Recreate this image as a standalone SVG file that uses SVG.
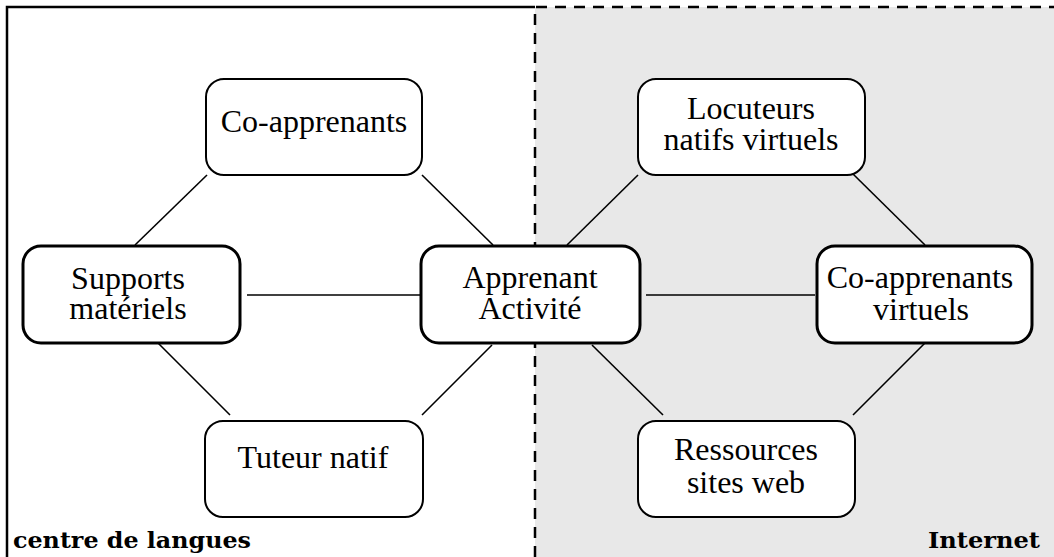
<svg xmlns="http://www.w3.org/2000/svg" width="1054" height="557" viewBox="0 0 1054 557">
  <style>
    .box { fill: #ffffff; stroke: #000000; stroke-width: 2; }
    .thick { stroke-width: 3; }
    .lbl { font-family: "Liberation Serif", "Times New Roman", serif; font-size: 32px; fill: #000000; text-anchor: middle; }
    .zone { font-family: "DejaVu Serif", "Liberation Serif", serif; font-weight: bold; font-size: 22px; fill: #000000; }
    .conn { stroke: #000000; stroke-width: 1.6; fill: none; }
  </style>
  <rect x="0" y="0" width="1054" height="557" fill="#ffffff"/>
  <g id="zones">
    <rect x="535" y="7" width="519" height="550" fill="#e8e8e8"/>
    <path d="M7,557 V7 H535" fill="none" stroke="#000000" stroke-width="2.5"/>
    <path d="M535,557 V7 H1054" fill="none" stroke="#000000" stroke-width="2.5" stroke-dasharray="11 8"/>
    <text class="zone" x="13" y="548" textLength="238" lengthAdjust="spacingAndGlyphs">centre de langues</text>
    <text class="zone" x="928" y="548" textLength="112" lengthAdjust="spacingAndGlyphs">Internet</text>
  </g>
  <g id="connectors">
    <line class="conn" x1="207" y1="175" x2="135" y2="245"/>
    <line class="conn" x1="422" y1="175" x2="493" y2="245"/>
    <line class="conn" x1="247" y1="295" x2="420" y2="295"/>
    <line class="conn" x1="158" y1="343" x2="230" y2="415"/>
    <line class="conn" x1="422" y1="415" x2="492" y2="345"/>
    <line class="conn" x1="567" y1="245" x2="638" y2="175"/>
    <line class="conn" x1="853" y1="174" x2="925" y2="245"/>
    <line class="conn" x1="646" y1="295" x2="815" y2="295"/>
    <line class="conn" x1="592" y1="345" x2="663" y2="415"/>
    <line class="conn" x1="925" y1="343" x2="853" y2="415"/>
  </g>
  <g id="node-coapprenants">
    <rect class="box" x="206" y="79" width="216" height="96" rx="18"/>
    <text class="lbl" x="314" y="132">Co-apprenants</text>
  </g>
  <g id="node-supports">
    <rect class="box thick" x="23" y="246" width="217" height="97" rx="18"/>
    <text class="lbl"><tspan x="128" y="289">Supports</tspan><tspan x="128" y="319">matériels</tspan></text>
  </g>
  <g id="node-tuteur">
    <rect class="box" x="205" y="421" width="218" height="96" rx="18"/>
    <text class="lbl" x="313" y="468">Tuteur natif</text>
  </g>
  <g id="node-apprenant">
    <rect class="box thick" x="421" y="246" width="219" height="97" rx="18"/>
    <text class="lbl"><tspan x="530" y="288">Apprenant</tspan><tspan x="530" y="319">Activité</tspan></text>
  </g>
  <g id="node-locuteurs">
    <rect class="box" x="638" y="79" width="227" height="96" rx="18"/>
    <text class="lbl"><tspan x="751" y="119">Locuteurs</tspan><tspan x="751" y="150">natifs virtuels</tspan></text>
  </g>
  <g id="node-coapprenants-virtuels">
    <rect class="box thick" x="817" y="246" width="215" height="97" rx="18"/>
    <text class="lbl"><tspan x="920" y="288">Co-apprenants</tspan><tspan x="921" y="320">virtuels</tspan></text>
  </g>
  <g id="node-ressources">
    <rect class="box" x="638" y="421" width="217" height="96" rx="18"/>
    <text class="lbl"><tspan x="746" y="460">Ressources</tspan><tspan x="746" y="493">sites web</tspan></text>
  </g>
</svg>
